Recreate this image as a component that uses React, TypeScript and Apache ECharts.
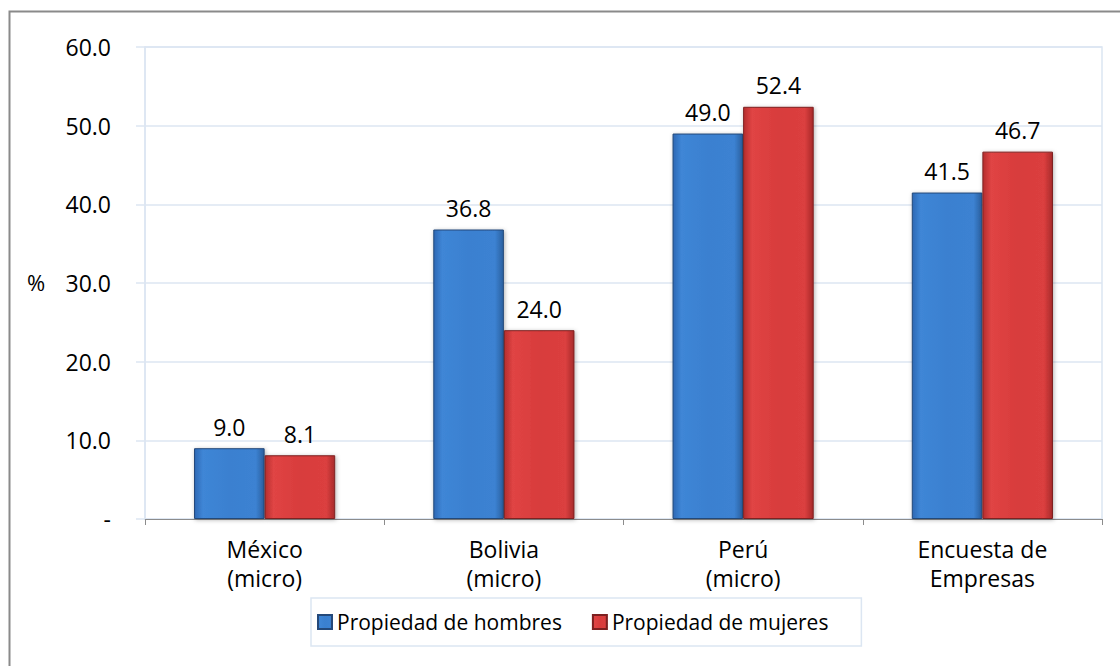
import React, { useEffect, useRef } from "react";
import * as echarts from "echarts";

const categories = ["México\n(micro)", "Bolivia\n(micro)", "Perú\n(micro)", "Encuesta de\nEmpresas"];
const hombres = [9.0, 36.8, 49.0, 41.5];
const mujeres = [8.1, 24.0, 52.4, 46.7];
const seriesNames = ["Propiedad de hombres", "Propiedad de mujeres"];
const yTicks = { min: 0, max: 60, interval: 10 };

const FONT = "'Open Sans', 'Noto Sans', sans-serif";

const blueFill = new echarts.graphic.LinearGradient(0, 0, 1, 0, [
  { offset: 0, color: "#2d68b4" },
  { offset: 0.12, color: "#3f86d6" },
  { offset: 0.5, color: "#3a80d0" },
  { offset: 0.88, color: "#3c82d2" },
  { offset: 1, color: "#2a5f9f" },
]);
const redFill = new echarts.graphic.LinearGradient(0, 0, 1, 0, [
  { offset: 0, color: "#b52e2e" },
  { offset: 0.12, color: "#e04444" },
  { offset: 0.5, color: "#d83c3c" },
  { offset: 0.88, color: "#db3f3f" },
  { offset: 1, color: "#a72a2a" },
]);

export default function App() {
  const ref = useRef<HTMLDivElement>(null);
  useEffect(() => {
    const chart = echarts.init(ref.current!, null, { renderer: "svg" });
    const label = {
      show: true,
      position: "top",
      distance: 10,
      fontSize: 23,
      fontFamily: FONT,
      color: "#000",
      formatter: (p: any) => Number(p.value).toFixed(1),
    };
    chart.setOption({
      animation: false,
      backgroundColor: "#fff",
      textStyle: { fontFamily: FONT },
      graphic: [
        {
          type: "rect",
          shape: { x: 9.5, y: 11.5, width: 1200, height: 700 },
          style: { fill: "none", stroke: "#8a8a8a", lineWidth: 2 },
          silent: true,
        },
        {
          type: "text",
          x: 27,
          y: 271,
          style: { text: "%", fontSize: 22, fontFamily: FONT, fill: "#000" },
        },
      ],
      grid: { left: 145, right: 18, top: 47, bottom: 147, show: true, borderColor: "#dce6f2", borderWidth: 1.5 },
      legend: {
        data: seriesNames,
        left: 311,
        top: 598,
        borderColor: "#dce6f2",
        borderWidth: 1.5,
        padding: [11, 33, 11, 6],
        itemGap: 30,
        itemWidth: 14,
        itemHeight: 14,
        icon: "rect",
        textStyle: { fontSize: 21, fontFamily: FONT, color: "#000", lineHeight: 26 },
      },
      xAxis: {
        type: "category",
        data: categories,
        axisLine: { lineStyle: { color: "#8c8c8c", width: 1 } },
        axisTick: { show: true, length: 6, lineStyle: { color: "#8c8c8c" } },
        axisLabel: { fontSize: 23, fontFamily: FONT, color: "#000", lineHeight: 29, margin: 15 },
      },
      yAxis: {
        type: "value",
        min: yTicks.min,
        max: yTicks.max,
        interval: yTicks.interval,
        axisLine: { show: true, lineStyle: { color: "#dce6f2", width: 1.5 } },
        axisTick: { show: true, length: 9, lineStyle: { color: "#dce6f2", width: 1.5 } },
        splitLine: { lineStyle: { color: "#dce6f2", width: 1.5 } },
        axisLabel: {
          fontSize: 23,
          fontFamily: FONT,
          color: "#000",
          margin: 34,
          formatter: (v: number) => (v === 0 ? "-" : v.toFixed(1)),
        },
      },
      series: [
        {
          name: seriesNames[0],
          type: "bar",
          data: hombres,
          barGap: "0%",
          barCategoryGap: "41%",
          itemStyle: {
            color: blueFill,
            borderColor: "#24497a",
            borderWidth: 1,
            shadowColor: "rgba(0,0,0,0.3)",
            shadowBlur: 4,
            shadowOffsetX: 1,
            shadowOffsetY: 1,
          },
          label,
        },
        {
          name: seriesNames[1],
          type: "bar",
          data: mujeres,
          itemStyle: {
            color: redFill,
            borderColor: "#7d2020",
            borderWidth: 1,
            shadowColor: "rgba(0,0,0,0.3)",
            shadowBlur: 4,
            shadowOffsetX: 1,
            shadowOffsetY: 1,
          },
          label,
        },
      ],
    });
    return () => chart.dispose();
  }, []);
  return <div ref={ref} style={{ position: "fixed", left: 0, top: 0, width: 1120, height: 666 }} />;
}
